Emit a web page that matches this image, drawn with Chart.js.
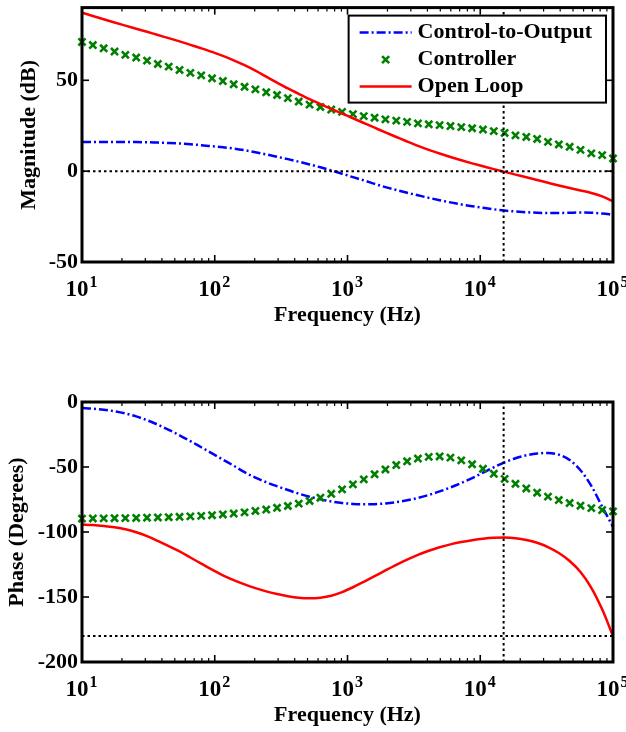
<!DOCTYPE html>
<html>
<head>
<meta charset="utf-8">
<title>Bode plot</title>
<script src="https://cdn.jsdelivr.net/npm/chart.js@4.4.1/dist/chart.umd.min.js"></script>
<style>
  html, body { margin:0; padding:0; background:#ffffff; }
  #page { position:relative; width:626px; height:732px; overflow:hidden; background:#ffffff; }
  #magCanvas { position:absolute; left:0; top:0; }
  #phaseCanvas { position:absolute; left:0; top:370px; }
</style>
</head>
<body>
<div id="page">
  <canvas id="magCanvas" width="626" height="340"></canvas>
  <canvas id="phaseCanvas" width="626" height="362"></canvas>
</div>
<script>
const FONT = '"Liberation Serif", "Times New Roman", Times, serif';

// ---- data ----
const seriesNames = ['Control-to-Output', 'Controller', 'Open Loop'];

const freqs = [10, 12.07, 14.56, 17.58, 21.21, 25.60, 30.89, 37.28, 44.99, 54.29,
  65.51, 79.06, 95.41, 115.1, 138.9, 167.7, 202.4, 244.2, 294.7, 355.6,
  429.2, 517.9, 625.1, 754.3, 910.3, 1099, 1326, 1600, 1931, 2330,
  2812, 3393, 4095, 4942, 5964, 7197, 8685, 10481, 12649, 15264,
  18421, 22230, 26827, 32375, 39069, 47149, 56899, 68665, 82864, 100000];

const plantMag = [16, 16, 16, 16, 16, 16, 15.9, 15.7, 15.5, 15.2,
  14.8, 14.3, 13.7, 13.1, 12.4, 11.5, 10.4, 9.2, 7.9, 6.6,
  5.2, 3.7, 2.1, 0.4, -1.4, -3.3, -5.1, -7.0, -8.8, -10.4,
  -11.9, -13.3, -14.7, -16.0, -17.2, -18.3, -19.3, -20.2, -21.0, -21.7,
  -22.2, -22.6, -22.9, -23.0, -23.0, -22.9, -22.8, -22.9, -23.3, -24.0];

const controllerMag = [71.1, 69.4, 67.6, 65.8, 64.0, 62.5, 60.8, 59.0, 57.5, 55.7,
  54.1, 52.7, 51.1, 49.6, 47.8, 46.4, 45.0, 43.4, 41.9, 40.2,
  38.3, 36.6, 35.3, 33.9, 32.6, 31.4, 30.3, 29.4, 28.5, 27.8,
  27.1, 26.3, 25.8, 25.3, 24.8, 24.2, 23.6, 22.9, 22.0, 21.0,
  19.7, 18.8, 17.7, 16.1, 14.7, 13.4, 11.7, 9.8, 8.8, 7.0];

const openLoopMag = [87.2, 85.4, 83.6, 81.8, 80.1, 78.4, 76.7, 74.9, 73.2, 71.4,
  69.5, 67.6, 65.6, 63.4, 61.0, 58.3, 55.3, 52.0, 48.7, 45.5,
  42.5, 39.6, 36.9, 34.3, 31.7, 29.1, 26.5, 23.9, 21.3, 18.8,
  16.3, 13.9, 11.7, 9.7, 7.8, 6.0, 4.3, 2.7, 1.1, -0.4,
  -1.9, -3.4, -4.9, -6.4, -7.9, -9.3, -10.6, -12.0, -13.9, -16.7];

const plantPhase = [-4.6, -5.1, -5.9, -7.1, -8.8, -11.1, -14.0, -17.5, -21.4, -25.6,
  -30.1, -34.8, -39.5, -44.3, -49.0, -54.0, -58.2, -61.7, -64.8, -67.7,
  -70.5, -72.9, -74.9, -76.5, -77.7, -78.4, -78.7, -78.6, -78.0, -77.0,
  -75.6, -73.8, -71.5, -68.8, -65.7, -62.3, -58.5, -54.4, -50.2, -46.4,
  -43.3, -41.0, -39.6, -39.2, -40.5, -44.6, -52.5, -64.5, -80.5, -96.0];

const controllerPhase = [-89.7, -89.6, -89.5, -89.4, -89.3, -89.2, -89.0, -88.8, -88.6, -88.3,
  -88.0, -87.6, -87.1, -86.5, -85.8, -84.9, -83.8, -82.7, -81.4, -80.0,
  -78.2, -76.1, -73.6, -70.6, -67.2, -63.4, -59.5, -55.6, -51.9, -48.5,
  -45.6, -43.5, -42.2, -41.9, -42.8, -44.9, -47.9, -51.4, -55.2, -59.1,
  -62.9, -66.5, -69.8, -72.8, -75.4, -77.7, -79.8, -81.6, -83.1, -84.1];

const openLoopPhase = [-94.3, -94.7, -95.4, -96.4, -97.9, -100.2, -103.2, -106.9, -110.9, -114.9,
  -119.6, -124.3, -129.0, -133.3, -137.0, -140.3, -143.2, -145.7, -147.7, -149.4,
  -150.6, -151.0, -150.5, -149.0, -146.2, -142.5, -138.3, -134.0, -129.6, -125.3,
  -121.3, -117.6, -114.4, -111.7, -109.5, -107.7, -106.3, -105.2, -104.5, -104.3,
  -104.8, -106.1, -108.3, -111.6, -116.2, -122.3, -130.8, -142.9, -159.5, -180.0];

const xTickValues = [10, 100, 1000, 10000, 100000];
const xTickLabels = [['10', '1'], ['10', '2'], ['10', '3'], ['10', '4'], ['10', '5']];
const freqLimits = [10, 100000];
const magTicks = [-50, 0, 50];
const magLimits = [-50, 90];
const phaseTicks = [-200, -150, -100, -50, 0];
const phaseLimits = [-200, 0];
const crossoverFreq = 15000;
const magRefLevel = 0;
const phaseRefLevel = -180;

// ---- styling ----
const colors = { plant: '#0000ff', controller: '#008000', openLoop: '#ff0000', ref: '#000000' };

function xy(values) { return freqs.map((f, i) => ({ x: f, y: values[i] })); }

function seriesDatasets(pv, cv, ov) {
  return [
    { label: seriesNames[0], data: xy(pv), borderColor: colors.plant, backgroundColor: colors.plant,
      borderWidth: 2.5, borderDash: [9, 3, 2, 3], pointRadius: 0, fill: false,
      cubicInterpolationMode: 'monotone', order: 3, clip: 6 },
    { label: seriesNames[1], data: xy(cv), showLine: false, pointStyle: 'crossRot',
      pointRadius: 5, pointBorderWidth: 2.6, borderColor: colors.controller,
      backgroundColor: colors.controller, order: 2, clip: 8 },
    { label: seriesNames[2], data: xy(ov), borderColor: colors.openLoop, backgroundColor: colors.openLoop,
      borderWidth: 2.5, pointRadius: 0, fill: false, cubicInterpolationMode: 'monotone', order: 1, clip: 6 }
  ];
}

function refDatasets(level, yLim) {
  return [
    { label: 'ref-h', data: [{ x: freqLimits[0], y: level }, { x: freqLimits[1], y: level }],
      borderColor: colors.ref, borderWidth: 2, borderDash: [2.5, 3], pointRadius: 0, order: 0 },
    { label: 'ref-v', data: [{ x: crossoverFreq, y: yLim[0] }, { x: crossoverFreq, y: yLim[1] }],
      borderColor: colors.ref, borderWidth: 2, borderDash: [2.5, 3], pointRadius: 0, order: 0 }
  ];
}

function drawX(ctx, cx, cy, r) {
  const o = r * Math.SQRT1_2;
  ctx.beginPath();
  ctx.moveTo(cx - o, cy - o); ctx.lineTo(cx + o, cy + o);
  ctx.moveTo(cx - o, cy + o); ctx.lineTo(cx + o, cy - o);
  ctx.stroke();
}

function drawLegend(chart) {
  const ctx = chart.ctx, a = chart.chartArea;
  const items = chart.data.datasets.filter(ds => seriesNames.includes(ds.label))
    .sort((p, q) => seriesNames.indexOf(p.label) - seriesNames.indexOf(q.label));
  ctx.font = 'bold 22px ' + FONT;
  const tw = Math.max(...items.map(d => ctx.measureText(d.label).width));
  const padL = 11, sample = 52, gap = 6, padR = 14, rowH = 27, padT = 17, padB = 16;
  const w = padL + sample + gap + tw + padR;
  const h = padT + rowH * (items.length - 1) + padB;
  const right = a.right - 7, top = a.top + 8, left = right - w;
  ctx.setLineDash([]);
  ctx.fillStyle = '#ffffff';
  ctx.fillRect(left, top, w, h);
  ctx.lineWidth = 2; ctx.strokeStyle = '#000000';
  ctx.strokeRect(left, top, w, h);
  items.forEach((ds, i) => {
    const cy = top + padT + i * rowH;
    const x0 = left + padL, x1 = x0 + sample;
    ctx.strokeStyle = ds.borderColor;
    if (ds.showLine === false) {
      ctx.setLineDash([]);
      ctx.lineWidth = ds.pointBorderWidth;
      drawX(ctx, (x0 + x1) / 2, cy, ds.pointRadius);
    } else {
      ctx.setLineDash(ds.borderDash || []);
      ctx.lineWidth = ds.borderWidth;
      ctx.beginPath(); ctx.moveTo(x0, cy); ctx.lineTo(x1, cy); ctx.stroke();
    }
    ctx.setLineDash([]);
    ctx.fillStyle = '#000000';
    ctx.textAlign = 'left'; ctx.textBaseline = 'middle';
    ctx.fillText(ds.label, x1 + gap, cy);
  });
}

// x tick labels with a raised exponent (10^n), positioned by the x scale
function drawXLabels(chart) {
  const ctx = chart.ctx, a = chart.chartArea, xs = chart.scales.x;
  const baseFont = 'bold 23px ' + FONT, expFont = 'bold 16px ' + FONT;
  ctx.fillStyle = '#000000';
  ctx.textBaseline = 'alphabetic';
  ctx.textAlign = 'left';
  xTickValues.forEach((v, i) => {
    const [base, exp] = xTickLabels[i];
    ctx.font = baseFont; const wb = ctx.measureText(base).width;
    ctx.font = expFont; const we = ctx.measureText(exp).width;
    const px = xs.getPixelForValue(v);
    const x0 = px - (wb + we) / 2 - 1;
    ctx.font = baseFont; ctx.fillText(base, x0, a.bottom + 34);
    ctx.font = expFont; ctx.fillText(exp, x0 + wb + 1, a.bottom + 25);
  });
}

const decor = {
  id: 'decor',
  afterDraw(chart, args, opts) {
    const ctx = chart.ctx, a = chart.chartArea;
    const xs = chart.scales.x, ys = chart.scales.y;
    const seg = (x1, y1, x2, y2) => { ctx.beginPath(); ctx.moveTo(x1, y1); ctx.lineTo(x2, y2); ctx.stroke(); };
    ctx.save();
    ctx.setLineDash([]);
    ctx.strokeStyle = '#000000';
    ctx.lineWidth = 1.2;
    for (let d = freqLimits[0]; d < freqLimits[1]; d *= 10) {
      for (let m = 2; m <= 9; m++) {
        const px = xs.getPixelForValue(m * d);
        seg(px, a.bottom, px, a.bottom - 4);
        seg(px, a.top, px, a.top + 4);
      }
    }
    ctx.lineWidth = 1.6;
    xTickValues.forEach(v => {
      const px = xs.getPixelForValue(v);
      seg(px, a.bottom, px, a.bottom - 7);
      seg(px, a.top, px, a.top + 7);
    });
    ys.ticks.forEach(t => {
      const py = ys.getPixelForValue(t.value);
      seg(a.left, py, a.left + 7, py);
      seg(a.right, py, a.right - 7, py);
    });
    ctx.lineWidth = 3;
    ctx.strokeRect(a.left, a.top, a.right - a.left, a.bottom - a.top);
    drawXLabels(chart);
    if (opts && opts.legend) drawLegend(chart);
    ctx.restore();
  }
};

function makeOptions(yLim, yTicks, yTitle, yTitlePad, pad, showLegend) {
  const tickFont = { family: FONT, size: 22, weight: 'bold' };
  return {
    responsive: false,
    animation: false,
    events: [],
    layout: { padding: pad },
    plugins: { legend: { display: false }, tooltip: { enabled: false }, decor: { legend: showLegend } },
    scales: {
      x: {
        type: 'logarithmic', position: 'bottom', min: freqLimits[0], max: freqLimits[1],
        grid: { display: false, drawTicks: false }, border: { display: false },
        ticks: { display: false, autoSkip: false, maxRotation: 0, minRotation: 0 },
        title: { display: true, text: 'Frequency (Hz)', color: '#000000', font: tickFont, padding: { top: 0, bottom: 0 } },
        afterBuildTicks: (s) => { s.ticks = xTickValues.map(v => ({ value: v })); },
        afterFit: (s) => { s.height = 67; s.paddingLeft = 0; s.paddingRight = 0; }
      },
      y: {
        type: 'linear', position: 'left', min: yLim[0], max: yLim[1],
        grid: { display: false, drawTicks: false }, border: { display: false },
        ticks: { padding: 4, color: '#000000', font: tickFont },
        title: { display: true, text: yTitle, color: '#000000', font: tickFont, padding: { top: yTitlePad, bottom: 0 } },
        afterBuildTicks: (s) => { s.ticks = yTicks.map(v => ({ value: v })); },
        afterFit: (s) => { s.width = 82; s.paddingTop = 0; s.paddingBottom = 0; }
      }
    }
  };
}

new Chart(document.getElementById('magCanvas'), {
  type: 'line',
  data: { datasets: seriesDatasets(plantMag, controllerMag, openLoopMag).concat(refDatasets(magRefLevel, magLimits)) },
  options: makeOptions(magLimits, magTicks, 'Magnitude (dB)', 16, { top: 2, right: 13, bottom: 11, left: 0 }, true),
  plugins: [decor]
});

new Chart(document.getElementById('phaseCanvas'), {
  type: 'line',
  data: { datasets: seriesDatasets(plantPhase, controllerPhase, openLoopPhase).concat(refDatasets(phaseRefLevel, phaseLimits)) },
  options: makeOptions(phaseLimits, phaseTicks, 'Phase (Degrees)', 4, { top: 32, right: 13, bottom: 3, left: 0 }, false),
  plugins: [decor]
});
</script>
</body>
</html>
